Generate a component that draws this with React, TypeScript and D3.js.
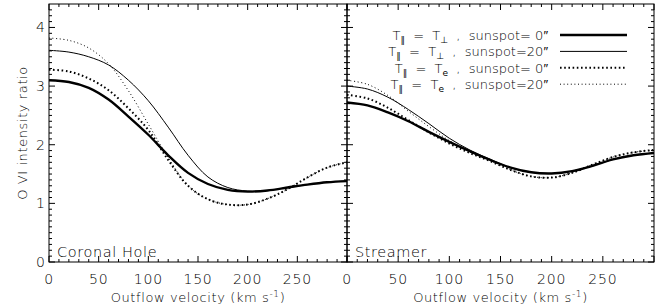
import React from "react";
import * as d3 from "d3";

const velocity = [0, 20, 40, 60, 80, 100, 120, 140, 160, 180, 200, 220, 240, 260, 280, 300];

// Coronal Hole
const chPerp0 = [3.10, 3.07, 2.97, 2.77, 2.48, 2.17, 1.82, 1.52, 1.33, 1.23, 1.20, 1.22, 1.27, 1.32, 1.36, 1.38];
const chPerp20 = [3.61, 3.58, 3.50, 3.36, 3.10, 2.75, 2.30, 1.82, 1.45, 1.27, 1.21, 1.22, 1.27, 1.32, 1.36, 1.38];
const chTe0 = [3.28, 3.25, 3.13, 2.93, 2.62, 2.25, 1.74, 1.30, 1.07, 0.98, 0.98, 1.08, 1.24, 1.44, 1.61, 1.70];
const chTe20 = [3.82, 3.78, 3.65, 3.38, 2.92, 2.35, 1.78, 1.30, 1.07, 0.98, 0.98, 1.08, 1.24, 1.44, 1.61, 1.70];

// Streamer
const stPerp0 = [2.72, 2.67, 2.55, 2.40, 2.22, 2.05, 1.89, 1.74, 1.61, 1.53, 1.51, 1.55, 1.64, 1.75, 1.82, 1.86];
const stPerp20 = [3.00, 2.95, 2.81, 2.60, 2.36, 2.11, 1.91, 1.75, 1.61, 1.53, 1.51, 1.55, 1.64, 1.75, 1.82, 1.86];
const stTe0 = [2.85, 2.79, 2.63, 2.42, 2.21, 2.02, 1.86, 1.72, 1.57, 1.46, 1.44, 1.52, 1.66, 1.79, 1.87, 1.91];
const stTe20 = [3.10, 3.03, 2.84, 2.57, 2.31, 2.07, 1.88, 1.73, 1.57, 1.46, 1.44, 1.52, 1.66, 1.79, 1.87, 1.91];

const xTickLabels = ["0", "50", "100", "150", "200", "250"];
const yTickLabels = ["0", "1", "2", "3", "4"];
const panelNames = ["Coronal Hole", "Streamer"];
const legendSunspot = ["sunspot= 0\u2033", "sunspot=20\u2033", "sunspot= 0\u2033", "sunspot=20\u2033"];
const legendSub = ["\u22A5", "\u22A5", "e", "e"];

const FONT = "'DejaVu Sans', Verdana, sans-serif";
const FW = 200;

const styles = [
  { w: 2.4, dash: undefined as string | undefined },
  { w: 1, dash: undefined as string | undefined },
  { w: 2, dash: "1.6 2.6" },
  { w: 1, dash: "1 2.6" },
];

const top = 4;
const bottom = 262;
const y = d3.scaleLinear().domain([0, 4.4]).range([bottom, top]);

function Panel({ x0, x1, series, name }: { x0: number; x1: number; series: number[][]; name: string }) {
  const x = d3.scaleLinear().domain([0, 300]).range([x0, x1]);
  const line = d3
    .line<number>()
    .x((_, i) => x(velocity[i]))
    .y((d) => y(d))
    .curve(d3.curveCatmullRom.alpha(0.5));
  const xMinor = d3.range(0, 301, 10);
  const yMinor = d3.range(0, 44).map((v) => v / 10);
  const ticks: JSX.Element[] = [];
  xMinor.forEach((v, i) => {
    const L = v % 50 === 0 ? 6 : 3;
    const px = x(v);
    ticks.push(<line key={"xb" + i} x1={px} x2={px} y1={bottom} y2={bottom - L} />);
    ticks.push(<line key={"xt" + i} x1={px} x2={px} y1={top} y2={top + L} />);
  });
  yMinor.forEach((v, i) => {
    const L = Math.abs(v - Math.round(v)) < 1e-6 ? 6 : 3;
    const py = y(v);
    ticks.push(<line key={"yl" + i} x1={x0} x2={x0 + L} y1={py} y2={py} />);
    ticks.push(<line key={"yr" + i} x1={x1} x2={x1 - L} y1={py} y2={py} />);
  });
  return (
    <g>
      <defs>
        <clipPath id={"clip" + x0}>
          <rect x={x0} y={top} width={x1 - x0} height={bottom - top} />
        </clipPath>
      </defs>
      <g stroke="#000" strokeWidth={1}>{ticks}</g>
      <rect x={x0} y={top} width={x1 - x0} height={bottom - top} fill="none" stroke="#000" strokeWidth={1} />
      <g clipPath={`url(#clip${x0})`}>
        {series.map((s, i) => (
          <path
            key={i}
            d={line(s) || ""}
            fill="none"
            stroke="#000"
            strokeWidth={styles[i].w}
            strokeDasharray={styles[i].dash}
          />
        ))}
      </g>
      {xTickLabels.map((t, i) => (
        <text key={t} x={x(i * 50)} y={284} textAnchor="middle" fontSize={14} fontFamily={FONT} fontWeight={FW} fill="#000" letterSpacing={0.8}>
          {t}
        </text>
      ))}
      <text x={(x0 + x1) / 2} y={302} textAnchor="middle" fontSize={13} fontFamily={FONT} fontWeight={FW} fill="#000" letterSpacing={0.6}>
        Outflow velocity (km s
        <tspan dy={-5} fontSize={9}>-1</tspan>
        <tspan dy={5}>)</tspan>
      </text>
      <text x={x0 + 8} y={257} fontSize={14.5} fontFamily={FONT} fontWeight={FW} fill="#000" letterSpacing={0.6}>
        {name}
      </text>
    </g>
  );
}

export default function App() {
  return (
    <svg width={662} height={306} style={{ position: "absolute", left: 0, top: 0, background: "#fff" }}>
      <rect x={0} y={0} width={662} height={306} fill="#fff" />
      <Panel x0={49} x1={347} series={[chPerp0, chPerp20, chTe0, chTe20]} name={panelNames[0]} />
      <Panel x0={347} x1={654} series={[stPerp0, stPerp20, stTe0, stTe20]} name={panelNames[1]} />
      {yTickLabels.map((t, i) => (
        <text key={t} x={45} y={y(i) + 5} textAnchor="end" fontSize={14} fontFamily={FONT} fontWeight={FW} fill="#000">
          {t}
        </text>
      ))}
      <text
        transform={`translate(27,${(top + bottom) / 2}) rotate(-90)`}
        textAnchor="middle"
        fontSize={13}
        fontFamily={FONT}
        fontWeight={FW}
        fill="#000"
        letterSpacing={0.6}
      >
        O VI intensity ratio
      </text>
      {legendSunspot.map((s, i) => {
        const ly = 40 + i * 16.4;
        return (
          <g key={i}>
            <text
              x={548}
              y={ly}
              textAnchor="end"
              fontSize={13}
              fontFamily={FONT}
              fontWeight={FW}
              fill="#000"
              style={{ whiteSpace: "pre" }}
            >
              T<tspan dy={3} fontSize={9} fontWeight={400}>{"\u2225"}</tspan>
              <tspan dy={-3}>{"  =  T"}</tspan>
              <tspan dy={3} fontSize={9} fontWeight={400}>{legendSub[i]}</tspan>
              <tspan dy={-3}>{"  ,  " + s}</tspan>
            </text>
            <line
              x1={560}
              x2={627}
              y1={ly - 5}
              y2={ly - 5}
              stroke="#000"
              strokeWidth={styles[i].w}
              strokeDasharray={styles[i].dash}
            />
          </g>
        );
      })}
    </svg>
  );
}
